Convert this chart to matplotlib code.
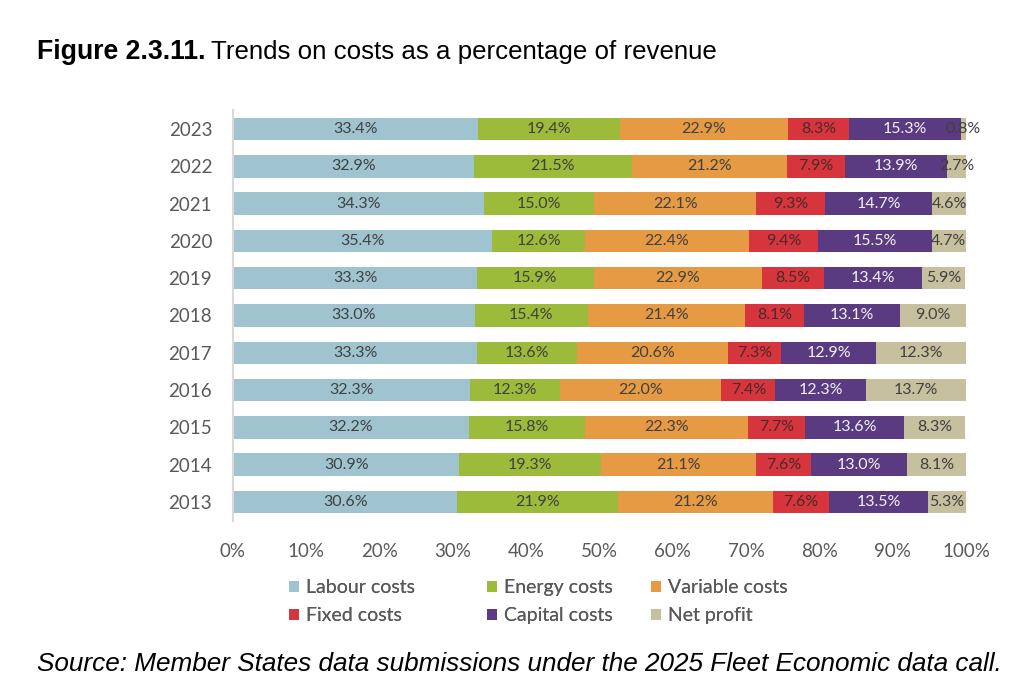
import matplotlib
matplotlib.use("Agg")
import matplotlib.pyplot as plt
from matplotlib.patches import Patch
import numpy as np

years = ["2023", "2022", "2021", "2020", "2019", "2018", "2017", "2016", "2015", "2014", "2013"]
series_names = ["Labour costs", "Energy costs", "Variable costs", "Fixed costs", "Capital costs", "Net profit"]
labour = [33.4, 32.9, 34.3, 35.4, 33.3, 33.0, 33.3, 32.3, 32.2, 30.9, 30.6]
energy = [19.4, 21.5, 15.0, 12.6, 15.9, 15.4, 13.6, 12.3, 15.8, 19.3, 21.9]
variable = [22.9, 21.2, 22.1, 22.4, 22.9, 21.4, 20.6, 22.0, 22.3, 21.1, 21.2]
fixed = [8.3, 7.9, 9.3, 9.4, 8.5, 8.1, 7.3, 7.4, 7.7, 7.6, 7.6]
capital = [15.3, 13.9, 14.7, 15.5, 13.4, 13.1, 12.9, 12.3, 13.6, 13.0, 13.5]
net_profit = [0.8, 2.7, 4.6, 4.7, 5.9, 9.0, 12.3, 13.7, 8.3, 8.1, 5.3]
xtick_labels = ["0%", "10%", "20%", "30%", "40%", "50%", "60%", "70%", "80%", "90%", "100%"]

colors = ["#9FC4D0", "#9DBB3A", "#E59A43", "#D6353D", "#5A3A80", "#C6C09E"]
label_colors = ["#404040", "#404040", "#404040", "#4a2a2a", "#F2F2F2", "#404040"]

all_series = [labour, energy, variable, fixed, capital, net_profit]

fig = plt.figure(figsize=(10.24, 6.99), dpi=100)
ax = fig.add_axes([0.2275, 0.2552, 0.9434 - 0.2275, 0.8421 - 0.2552])

y = np.arange(len(years))
left = np.zeros(len(years))
handles = []
for name, vals, c, lc in zip(series_names, all_series, colors, label_colors):
    vals = np.array(vals)
    bars = ax.barh(y, vals, left=left, height=0.6, color=c, edgecolor="none", label=name)
    ax.bar_label(bars, labels=[f"{v:.1f}%" for v in vals], label_type="center",
                 color=lc, fontsize=11.5, family="Lato", clip_on=False)
    left = left + vals
    handles.append(Patch(facecolor=c, edgecolor="none", label=name))

ax.set_xlim(0, 100)
ax.set_ylim(len(years) - 0.5, -0.5)
ax.set_yticks(y)
ax.set_yticklabels(years, family="Lato", fontsize=13.5, color="#595959")
ax.set_xticks(np.arange(0, 101, 10))
ax.set_xticklabels(xtick_labels, family="Lato", fontsize=13.5, color="#595959")
ax.tick_params(axis="both", length=0)
ax.tick_params(axis="y", pad=15)
ax.tick_params(axis="x", pad=16)
for s in ["top", "right", "bottom"]:
    ax.spines[s].set_visible(False)
ax.spines["left"].set_color("#D9D9D9")
ax.spines["left"].set_linewidth(1.5)

# legend: three columns at fixed positions, as in the reference
col_x = [289 / 1024, 487 / 1024, 651 / 1024]
col_items = [[0, 3], [1, 4], [2, 5]]
for cx, items in zip(col_x, col_items):
    leg = fig.legend([handles[i] for i in items], [series_names[i] for i in items],
                     loc="upper left", bbox_to_anchor=(cx, 0.171), borderaxespad=0,
                     borderpad=0, frameon=False, handlelength=0.5, handleheight=0.5,
                     handletextpad=0.35, labelspacing=0.55,
                     prop={"family": "Lato", "size": 14})
    for t in leg.get_texts():
        t.set_color("#595959")
    fig.add_artist(leg)

t1 = fig.text(0.036, 0.925, "Figure 2.3.11.", fontsize=19.2, fontweight="bold",
              family="Liberation Sans", va="center", ha="left")
fig.canvas.draw()
bb = t1.get_window_extent()
x2 = (bb.x1 + 6) / fig.bbox.width
fig.text(x2, 0.925, "Trends on costs as a percentage of revenue", fontsize=18.6,
         family="Liberation Sans", va="center", ha="left")
fig.text(0.036, 0.05, "Source: Member States data submissions under the 2025 Fleet Economic data call.",
         fontsize=18.8, style="italic", family="Liberation Sans", va="center", ha="left")

fig.savefig("out.png", dpi=100)
